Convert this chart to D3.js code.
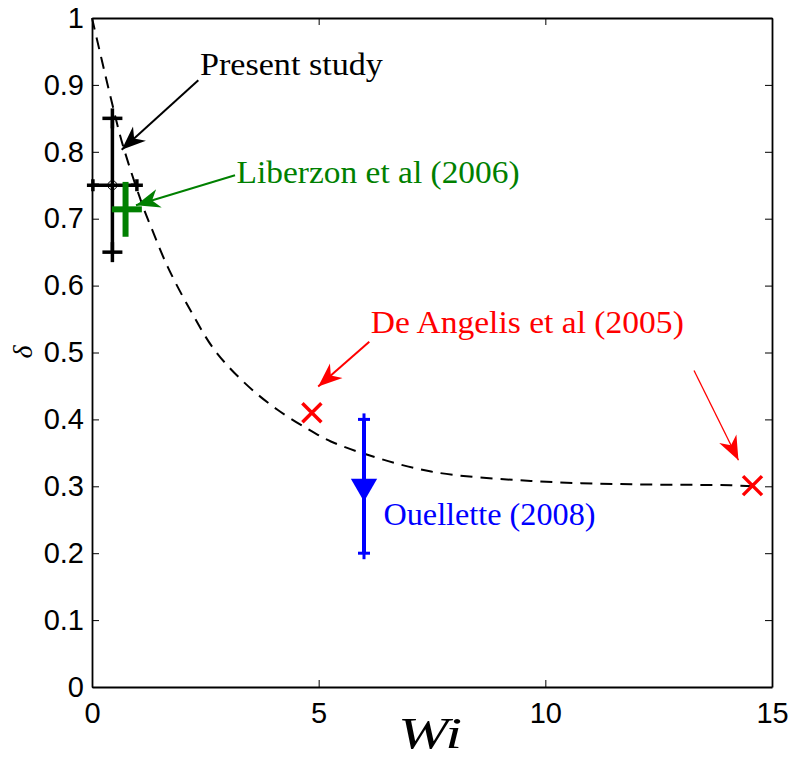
<!DOCTYPE html>
<html>
<head>
<meta charset="utf-8">
<script src="https://cdn.jsdelivr.net/npm/d3@7"></script>
<style>
  body { margin: 0; background: #fff; }
  svg { display: block; }
</style>
</head>
<body>
<script>
// values
const xTicks = [0, 5, 10, 15];
const yTicks = [0, 0.1, 0.2, 0.3, 0.4, 0.5, 0.6, 0.7, 0.8, 0.9, 1];

// dashed fit curve, sampled from the figure
const curveWi = [0, 0.42, 0.68, 1.12, 1.30, 1.67, 2.18, 2.70, 3.36, 4.10, 4.98, 5.27, 5.99, 7.48, 9.68, 11.9, 14.1, 14.57];
const curveDelta = [1, 0.879, 0.810, 0.719, 0.688, 0.628, 0.562, 0.504, 0.455, 0.414, 0.377, 0.367, 0.349, 0.322, 0.308, 0.303, 0.3015, 0.300];

// present study: point with x and y error bars
const presentPoint = [0.45, 0.75];
const presentWiRange = [0.02, 0.99];
const presentDeltaRange = [0.65, 0.85];

// Liberzon et al (2006)
const liberzonWi = 0.74;
const liberzonWiRange = [0.44, 1.10];
const liberzonDelta = 0.714;
const liberzonDeltaRange = [0.673, 0.755];

// De Angelis et al (2005)
const deAngelisWi = [4.85, 14.57];
const deAngelisDelta = [0.41, 0.301];

// Ouellette (2008)
const ouelletteWi = 6.0;
const ouelletteDelta = 0.30;
const ouelletteDeltaRange = [0.20, 0.40];

const width = 792, height = 758;
const margin = { top: 18, right: 20, bottom: 71, left: 92 };
const w = width - margin.left - margin.right;
const h = height - margin.top - margin.bottom;

const x = d3.scaleLinear().domain([0, 15]).range([0, w]);
const y = d3.scaleLinear().domain([0, 1]).range([h, 0]);

const svg = d3.select('body').append('svg')
  .attr('width', width)
  .attr('height', height);

const defs = svg.append('defs');
const mkArrow = (id, color, size) => {
  defs.append('marker')
    .attr('id', id)
    .attr('viewBox', '0 0 20 20')
    .attr('refX', 20).attr('refY', 10)
    .attr('markerWidth', size).attr('markerHeight', size)
    .attr('markerUnits', 'userSpaceOnUse')
    .attr('orient', 'auto')
    .append('path')
    .attr('d', 'M0,2 L20,10 L0,18 L6,10 Z')
    .attr('fill', color);
};
mkArrow('arrK', '#000', 24);
mkArrow('arrG', '#008000', 24);
mkArrow('arrR', '#ff0000', 24);

const g = svg.append('g')
  .attr('transform', `translate(${margin.left}, ${margin.top})`);

// axes box with inward ticks
const tickLen = 7;
g.append('g')
  .attr('transform', `translate(0, ${h})`)
  .call(d3.axisBottom(x).tickValues(xTicks).tickSizeInner(-tickLen).tickSizeOuter(0).tickPadding(15).tickFormat(d3.format('d')));
g.append('g')
  .call(d3.axisTop(x).tickValues(xTicks).tickSizeInner(-tickLen).tickSizeOuter(0).tickFormat(''));
g.append('g')
  .call(d3.axisLeft(y).tickValues(yTicks).tickSizeInner(-tickLen).tickSizeOuter(0).tickPadding(8).tickFormat(d => d === 0 || d === 1 ? d3.format('d')(d) : d3.format('.1f')(d)));
g.append('g')
  .attr('transform', `translate(${w}, 0)`)
  .call(d3.axisRight(y).tickValues(yTicks).tickSizeInner(-tickLen).tickSizeOuter(0).tickFormat(''));

g.selectAll('.domain').attr('stroke', '#000').attr('stroke-width', 1.8);
g.selectAll('.tick line').attr('stroke', '#000').attr('stroke-width', 1);
g.selectAll('.tick text')
  .attr('fill', '#000')
  .style('font-family', 'Liberation Sans, Arial, sans-serif')
  .style('font-size', '29px');

// dashed curve
const curve = curveWi.map((d, i) => [d, curveDelta[i]]);
g.append('path')
  .datum(curve)
  .attr('fill', 'none')
  .attr('stroke', '#000')
  .attr('stroke-width', 2)
  .attr('stroke-dasharray', '12,8')
  .attr('d', d3.line().curve(d3.curveCatmullRom).x(d => x(d[0])).y(d => y(d[1])));

// plus marker helper (MATLAB style "+" at errorbar ends)
const plus = (sel, cx, cy, r, color, sw) => {
  sel.append('line').attr('x1', cx - r).attr('x2', cx + r).attr('y1', cy).attr('y2', cy)
    .attr('stroke', color).attr('stroke-width', sw);
  sel.append('line').attr('x1', cx).attr('x2', cx).attr('y1', cy - r).attr('y2', cy + r)
    .attr('stroke', color).attr('stroke-width', sw);
};

// present study
const ps = g.append('g');
ps.append('line')
  .attr('x1', x(presentPoint[0])).attr('x2', x(presentPoint[0]))
  .attr('y1', y(presentDeltaRange[0])).attr('y2', y(presentDeltaRange[1]))
  .attr('stroke', '#000').attr('stroke-width', 3.5);
ps.append('line')
  .attr('x1', x(presentWiRange[0])).attr('x2', x(presentWiRange[1]))
  .attr('y1', y(presentPoint[1])).attr('y2', y(presentPoint[1]))
  .attr('stroke', '#000').attr('stroke-width', 3.5);
presentDeltaRange.forEach(v => plus(ps, x(presentPoint[0]), y(v), 10, '#000', 3.5));
presentWiRange.forEach(v => plus(ps, x(v), y(presentPoint[1]), 6, '#000', 3.5));
ps.append('circle')
  .attr('cx', x(presentPoint[0])).attr('cy', y(presentPoint[1])).attr('r', 4.5)
  .attr('fill', 'none').attr('stroke', '#000').attr('stroke-width', 1);

// Liberzon
const lb = g.append('g');
lb.append('line')
  .attr('x1', x(liberzonWi)).attr('x2', x(liberzonWi))
  .attr('y1', y(liberzonDeltaRange[0])).attr('y2', y(liberzonDeltaRange[1]))
  .attr('stroke', '#008000').attr('stroke-width', 6);
lb.append('line')
  .attr('x1', x(liberzonWiRange[0])).attr('x2', x(liberzonWiRange[1]))
  .attr('y1', y(liberzonDelta)).attr('y2', y(liberzonDelta))
  .attr('stroke', '#008000').attr('stroke-width', 6);

// De Angelis crosses
g.append('g').selectAll('path')
  .data(deAngelisWi.map((d, i) => [d, deAngelisDelta[i]]))
  .enter().append('path')
  .attr('d', d => {
    const cx = x(d[0]), cy = y(d[1]), r = 9.5;
    return `M${cx - r},${cy - r}L${cx + r},${cy + r}M${cx - r},${cy + r}L${cx + r},${cy - r}`;
  })
  .attr('stroke', '#ff0000').attr('stroke-width', 3.5).attr('fill', 'none');

// Ouellette
const ou = g.append('g');
ou.append('line')
  .attr('x1', x(ouelletteWi)).attr('x2', x(ouelletteWi))
  .attr('y1', y(ouelletteDeltaRange[0])).attr('y2', y(ouelletteDeltaRange[1]))
  .attr('stroke', '#0000ff').attr('stroke-width', 4);
ouelletteDeltaRange.forEach(v => plus(ou, x(ouelletteWi), y(v), 6, '#0000ff', 3));
ou.append('path')
  .attr('d', d3.symbol().type(d3.symbolTriangle).size(300)())
  .attr('transform', `translate(${x(ouelletteWi)}, ${y(ouelletteDelta)}) rotate(180)`)
  .attr('fill', '#0000ff');

// annotation arrows (in data coordinates)
const arrows = [
  { from: [2.345, 0.907], to: [0.655, 0.803], color: '#000', m: 'arrK', sw: 2 },
  { from: [3.155, 0.765], to: [0.97, 0.720], color: '#008000', m: 'arrG', sw: 2 },
  { from: [6.117, 0.516], to: [4.99, 0.449], color: '#ff0000', m: 'arrR', sw: 2 },
  { from: [13.28, 0.473], to: [14.26, 0.339], color: '#ff0000', m: 'arrR', sw: 1.3 }
];
g.append('g').selectAll('line')
  .data(arrows)
  .enter().append('line')
  .attr('x1', d => x(d.from[0])).attr('y1', d => y(d.from[1]))
  .attr('x2', d => x(d.to[0])).attr('y2', d => y(d.to[1]))
  .attr('stroke', d => d.color).attr('stroke-width', d => d.sw)
  .attr('marker-end', d => `url(#${d.m})`);

// text labels
const labels = [
  { text: 'Present study', at: [2.38, 0.915], color: '#000', len: 183 },
  { text: 'Liberzon et al (2006)', at: [3.19, 0.754], color: '#008000', len: 283 },
  { text: 'De Angelis et al (2005)', at: [6.15, 0.529], color: '#ff0000', len: 313 },
  { text: 'Ouellette (2008)', at: [6.43, 0.242], color: '#0000ff', len: 212 }
];
g.append('g').selectAll('text')
  .data(labels)
  .enter().append('text')
  .attr('x', d => x(d.at[0]))
  .attr('y', d => y(d.at[1]))
  .attr('fill', d => d.color)
  .attr('textLength', d => d.len)
  .attr('lengthAdjust', 'spacingAndGlyphs')
  .style('font-family', 'Liberation Serif, serif')
  .style('font-size', '32px')
  .text(d => d.text);

// axis labels
svg.append('text')
  .attr('x', 398)
  .attr('y', 748)
  .attr('textLength', 64)
  .attr('lengthAdjust', 'spacingAndGlyphs')
  .style('font-family', 'Liberation Serif, serif')
  .style('font-style', 'italic')
  .style('font-size', '44px')
  .text('Wi');

svg.append('text')
  .attr('transform', 'translate(32, 352) rotate(-90)')
  .attr('text-anchor', 'middle')
  .style('font-family', 'Liberation Serif, serif')
  .style('font-style', 'italic')
  .style('font-size', '28px')
  .text('δ');
</script>
</body>
</html>
